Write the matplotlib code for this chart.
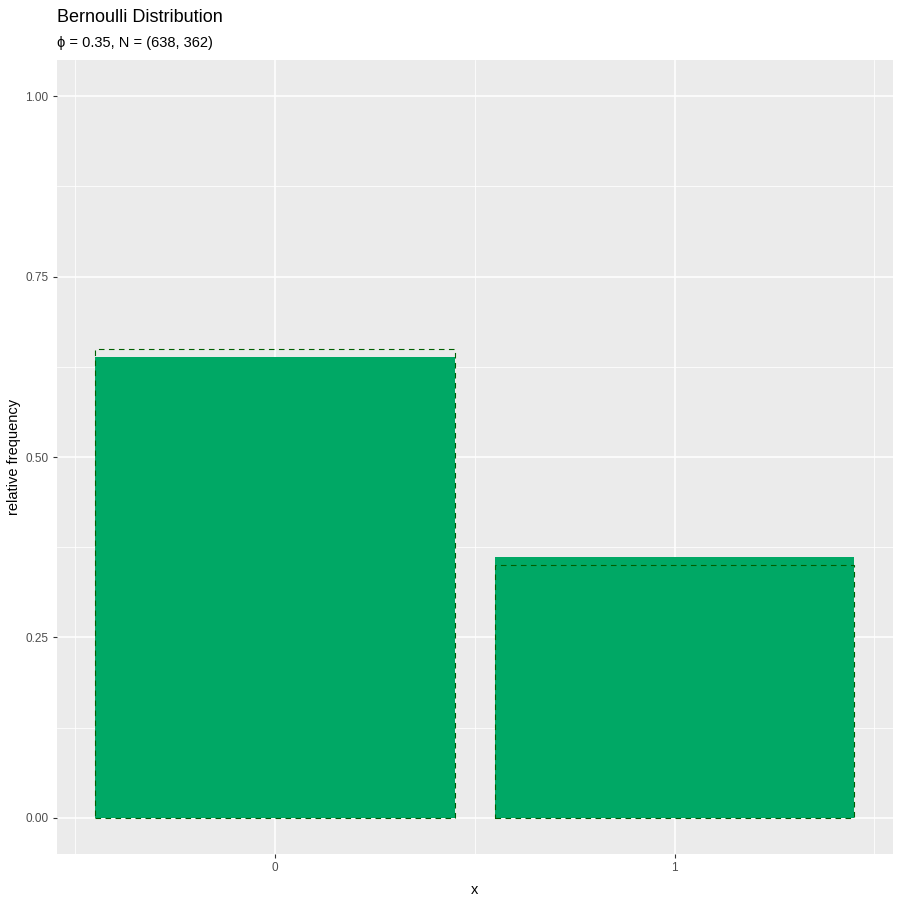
import matplotlib.pyplot as plt
import numpy as np
from matplotlib.ticker import FixedLocator

plt.rcParams['font.family'] = ['Liberation Sans', 'DejaVu Sans']

x_vals = [0, 1]
x_labels = ['0', '1']
rel_freq = [0.638, 0.362]
theo_prob = [0.65, 0.35]

fig = plt.figure(figsize=(9, 9), dpi=100)
ax = fig.add_axes([57/900, 1 - 854/900, (893 - 57)/900, (854 - 60)/900])
ax.set_facecolor('#EBEBEB')
for s in ax.spines.values():
    s.set_visible(False)

ax.set_xlim(-0.546, 1.547)
ax.set_ylim(-0.05, 1.05)

ax.set_xticks(x_vals)
ax.set_xticklabels(x_labels)
ax.xaxis.set_minor_locator(FixedLocator([-0.5, 0.5, 1.5]))
ax.set_yticks([0, 0.25, 0.5, 0.75, 1.0])
ax.set_yticklabels(['0.00', '0.25', '0.50', '0.75', '1.00'])
ax.yaxis.set_minor_locator(FixedLocator([0.125, 0.375, 0.625, 0.875]))

ax.grid(which='major', color='white', linewidth=1.1)
ax.grid(which='minor', color='white', linewidth=0.55)
ax.set_axisbelow(True)
ax.tick_params(which='major', length=3, width=0.8, color='#333333',
               labelcolor='#4D4D4D', labelsize=8.5, pad=3)
ax.tick_params(which='minor', length=0)

ax.bar(x_vals, rel_freq, width=0.9, color='#00A865', zorder=2)
ax.bar(x_vals, theo_prob, width=0.9, fill=False, edgecolor='#005F00',
       linewidth=0.8, linestyle=(0, (5, 4)), zorder=3)

ax.set_xlabel('x', fontsize=10.5, labelpad=6)
ax.set_ylabel('relative frequency', fontsize=10.5, labelpad=3)

fig.text(57/900, 1 - 17/900, 'Bernoulli Distribution', fontsize=13,
         va='center', ha='left')
fig.text(57/900, 1 - 43/900, '\u03d5 = 0.35, N = (638, 362)', fontsize=10.5,
         va='center', ha='left')

fig.savefig('out.png', dpi=100)
